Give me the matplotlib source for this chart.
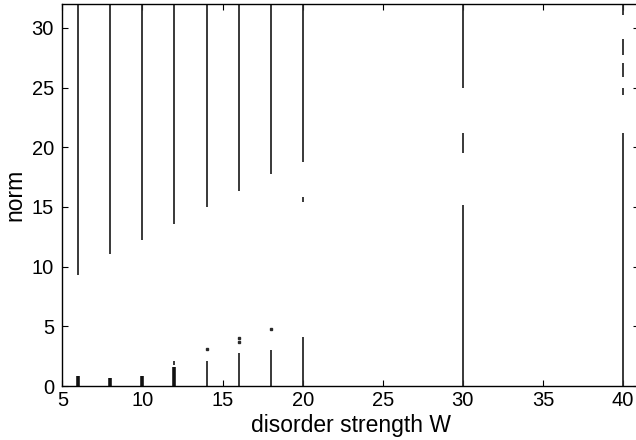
import matplotlib
matplotlib.use("Agg")
from matplotlib import pyplot as plt

# long segments reaching the top of the axes
main_w = [6, 8, 10, 12, 14, 16, 18, 20, 30, 40]
main_lo = [9.3, 11.1, 12.2, 13.6, 15.0, 16.3, 17.8, 18.8, 25.0, 31.1]
main_hi = [32, 32, 32, 32, 32, 32, 32, 32, 32, 32]

# thick clusters near zero
low_w = [6, 8, 10, 12]
low_hi = [0.8, 0.7, 0.8, 1.6]

# thinner segments near zero and in the middle
mid_w = [12, 14, 16, 18, 20, 20, 30, 30, 40, 40, 40, 40]
mid_lo = [1.8, 0, 0, 0, 0, 15.4, 19.5, 0, 27.7, 25.9, 24.4, 0]
mid_hi = [2.06, 2.06, 2.8, 3.0, 4.07, 15.8, 21.2, 15.2, 29.1, 27.1, 25.0, 21.2]

# isolated points
dot_w = [14, 16, 16, 18]
dot_y = [3.1, 3.7, 4.0, 4.8]

plt.rcParams['font.family'] = ['Liberation Sans', 'DejaVu Sans']
fig = plt.figure(figsize=(6.36, 4.4), dpi=100)
ax = fig.add_axes([0.098, 0.1227, 0.9068, 0.868])

ax.vlines(main_w, main_lo, main_hi, color='#2a2a2a', lw=1.3)
ax.vlines(low_w, [0] * len(low_w), low_hi, color='#111111', lw=2.6)
ax.vlines(mid_w, mid_lo, mid_hi, color='#2a2a2a', lw=1.3)
ax.plot(dot_w, dot_y, ls='none', marker='s', ms=1.5, color='#2a2a2a')

ax.set_xlim(5, 41)
ax.set_ylim(0, 32)
ax.set_xticks(range(5, 41, 5))
ax.set_yticks(range(0, 31, 5))
ax.tick_params(direction='in', length=4, width=0.8, top=True, right=True,
               labelsize=14.5, pad=3.5)
ax.tick_params(axis='y', pad=6)
for s in ax.spines.values():
    s.set_linewidth(1.0)
ax.set_xlabel('disorder strength W', fontsize=16.5, labelpad=3)
ax.set_ylabel('norm', fontsize=16.5, labelpad=4)

fig.savefig('out.png', dpi=100)
